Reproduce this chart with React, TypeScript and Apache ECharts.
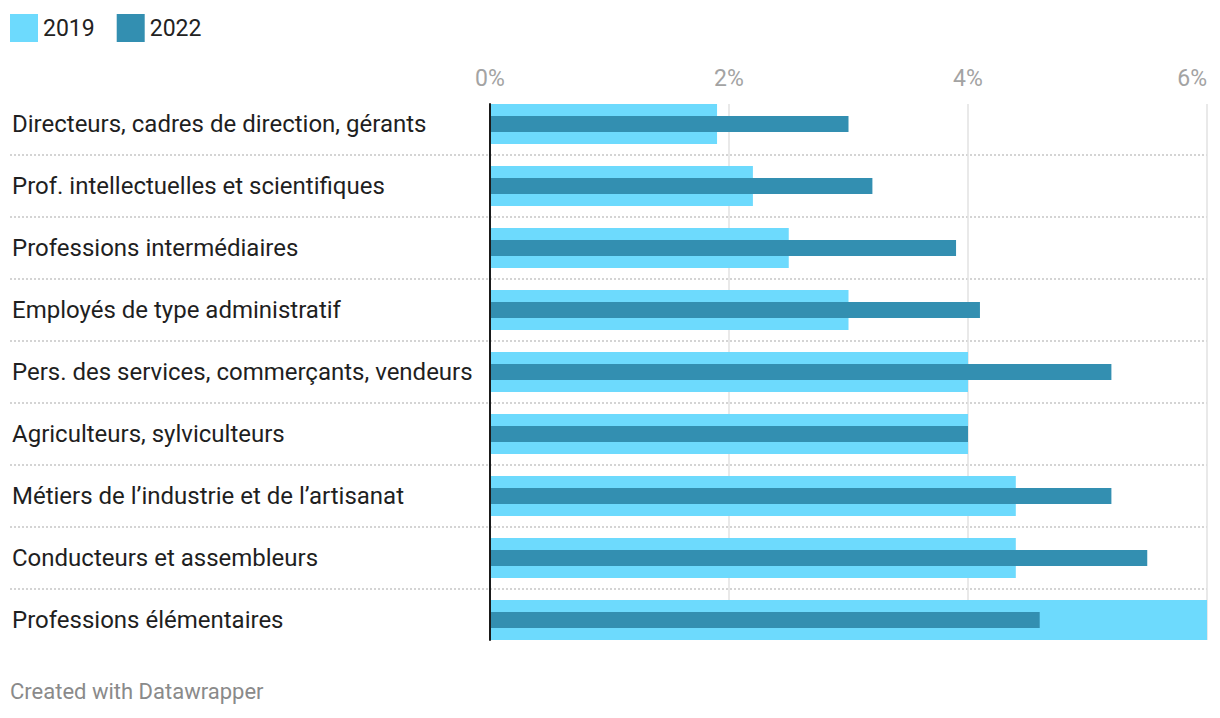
import React, { useEffect, useRef } from "react";
import * as echarts from "echarts";

const categories = [
  "Directeurs, cadres de direction, gérants",
  "Prof. intellectuelles et scientifiques",
  "Professions intermédiaires",
  "Employés de type administratif",
  "Pers. des services, commerçants, vendeurs",
  "Agriculteurs, sylviculteurs",
  "Métiers de l’industrie et de l’artisanat",
  "Conducteurs et assembleurs",
  "Professions élémentaires",
];
const values2019 = [1.9, 2.2, 2.5, 3.0, 4.0, 4.0, 4.4, 4.4, 6.0];
const values2022 = [3.0, 3.2, 3.9, 4.1, 5.2, 4.0, 5.2, 5.5, 4.6];
const seriesNames = ["2019", "2022"];
const xTicks = { min: 0, max: 6, interval: 2 };
const footer = "Created with Datawrapper";

const FONT = "Roboto, 'Noto Sans', sans-serif";
const C2019 = "#6ddafd";
const C2022 = "#338fb1";

export default function App() {
  const ref = useRef<HTMLDivElement>(null);
  useEffect(() => {
    if (!ref.current) return;
    const chart = echarts.init(ref.current, undefined, { renderer: "svg" });
    const hiddenCat = {
      gridIndex: 0,
      type: "category",
      data: categories,
      inverse: true,
      show: false,
    };
    chart.setOption({
      animation: false,
      backgroundColor: "#ffffff",
      textStyle: { fontFamily: FONT },
      legend: {
        left: 10,
        top: 14,
        padding: 0,
        itemWidth: 28,
        itemHeight: 28,
        itemGap: 22,
        icon: "rect",
        data: seriesNames,
        textStyle: { fontSize: 23, color: "#222222", fontFamily: FONT },
      },
      grid: [
        { left: 490, right: 13, top: 93, bottom: 67 },
        { left: 490, right: 13, top: 104, bottom: 78 },
        { left: 10, right: 13, top: 155, bottom: 129 },
      ],
      xAxis: [
        { gridIndex: 0, type: "value", min: xTicks.min, max: xTicks.max, show: false },
        {
          gridIndex: 1,
          type: "value",
          position: "top",
          min: xTicks.min,
          max: xTicks.max,
          interval: xTicks.interval,
          axisLine: { show: false },
          axisTick: { show: false },
          axisLabel: {
            formatter: "{value}%",
            color: "#a3a3a3",
            fontSize: 23,
            margin: 14,
            fontFamily: FONT,
            alignMaxLabel: "right",
          },
          splitLine: { show: true, lineStyle: { color: "#e2e2e2", width: 1.5 } },
        },
        { gridIndex: 2, type: "value", min: 0, max: 1, show: false },
      ],
      yAxis: [
        {
          gridIndex: 0,
          type: "category",
          data: categories,
          inverse: true,
          axisLine: { show: false },
          axisTick: { show: false },
          splitLine: { show: false },
          axisLabel: {
            align: "left",
            margin: 478,
            fontSize: 24,
            color: "#1f1f1f",
            fontFamily: FONT,
          },
        },
        hiddenCat,
        {
          gridIndex: 1,
          type: "value",
          min: 0,
          max: 1,
          z: 10,
          axisLine: { show: true, lineStyle: { color: "#1a1a1a", width: 2 } },
          axisTick: { show: false },
          axisLabel: { show: false },
          splitLine: { show: false },
        },
        {
          gridIndex: 2,
          type: "value",
          min: 0,
          max: 7,
          interval: 1,
          axisLine: { show: false },
          axisTick: { show: false },
          axisLabel: { show: false },
          splitLine: {
            show: true,
            lineStyle: { color: "#d4d4d4", width: 2, type: [2, 2] },
          },
        },
      ],
      series: [
        {
          name: seriesNames[0],
          type: "bar",
          xAxisIndex: 0,
          yAxisIndex: 0,
          data: values2019,
          barWidth: 40,
          itemStyle: { color: C2019 },
        },
        {
          name: seriesNames[1],
          type: "bar",
          xAxisIndex: 0,
          yAxisIndex: 1,
          data: values2022,
          barWidth: 16,
          itemStyle: { color: C2022 },
        },
      ],
      graphic: [
        {
          type: "text",
          left: 10,
          top: 680,
          style: {
            text: footer,
            fill: "#8a8a8a",
            fontSize: 22,
            fontFamily: FONT,
          },
        },
      ],
    });
    return () => chart.dispose();
  }, []);
  return (
    <div
      ref={ref}
      style={{ position: "absolute", left: 0, top: 0, width: 1220, height: 718 }}
    />
  );
}
